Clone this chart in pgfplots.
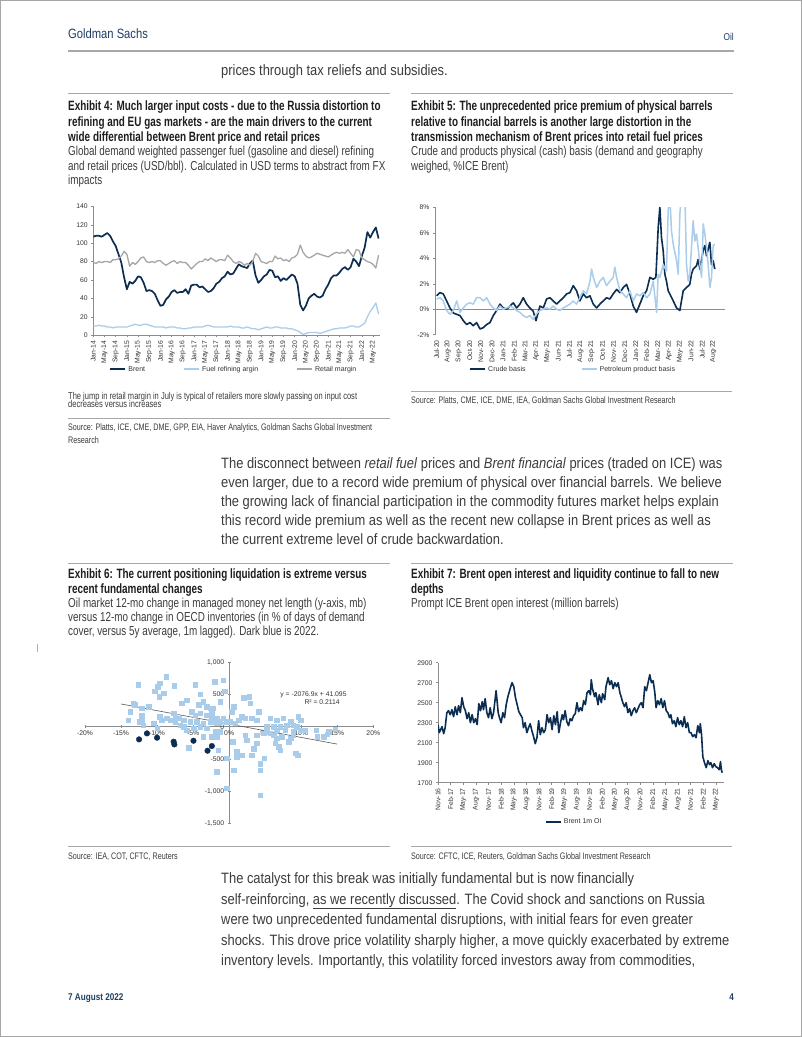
\documentclass[border=0pt]{standalone}
\usepackage{fontspec}
\setmainfont{Liberation Sans}[FakeStretch=0.83]
\newfontfamily\bodyfam{Liberation Sans}[FakeStretch=0.86]
\newfontfamily\titlefam{Liberation Sans}[FakeStretch=0.735]
\newfontfamily\subfam{Liberation Sans}[FakeStretch=0.76]
\newfontfamily\chartfont{Liberation Sans}
\usepackage{pgfplots}
\pgfplotsset{compat=1.18}
\definecolor{navy}{HTML}{0B2D52}
\definecolor{lblue}{HTML}{A9CDEB}
\definecolor{sqblue}{HTML}{A9CCEA}
\definecolor{rgray}{HTML}{A6A6A6}
\definecolor{axgray}{HTML}{8C8C8C}
\definecolor{ticktxt}{HTML}{333333}
\definecolor{bodytxt}{HTML}{3C3C3C}
\definecolor{titletxt}{HTML}{1E1E1E}
\definecolor{hdr}{HTML}{1F3F63}
\definecolor{rulec}{HTML}{A8A8A8}
\newcommand{\bodyf}{\bodyfam\fontsize{15}{17}\selectfont\color{bodytxt}}
\newcommand{\titlef}{\titlefam\bfseries\fontsize{13.5}{15}\selectfont\color{titletxt}}
\newcommand{\subf}{\subfam\fontsize{13}{14}\selectfont\color{bodytxt}}
\newcommand{\srcf}{\subfam\fontsize{9.45}{10}\selectfont\color{bodytxt}}
\newcommand{\notef}{\subfam\fontsize{9.9}{10}\selectfont\color{bodytxt}}
\pgfplotsset{
 gs/.style={
  scale only axis,
  tick style={draw=axgray, line width=0.4pt},
  tick align=outside,
  major tick length=2pt,
  ticklabel style={font=\chartfont\fontsize{6.8}{7}\selectfont, text=ticktxt},
  /pgf/number format/assume math mode=true,
  legend style={draw=none, fill=none, font=\chartfont\fontsize{7}{8}\selectfont, text=ticktxt},
  legend cell align=left,
  legend image code/.code={\draw[##1, line width=2pt] (0pt,0pt) -- (15pt,0pt);},
 },
}
\begin{document}
\begin{tikzpicture}
\useasboundingbox (0,0) rectangle (802pt,1037pt);
\fill[white] (0,0) rectangle (802pt,1037pt);
\draw[gray!70, line width=0.8pt] (0.5pt,0.5pt) rectangle (801.5pt,1036.5pt);

\begin{scope}[x=1pt, y=-1pt, yshift=1037pt]
% header
\node[anchor=mid west, inner sep=0pt] at (68,36) {\fontsize{13.5}{15}\selectfont\color{hdr}Goldman Sachs};
\node[anchor=mid east, inner sep=0pt] at (734,38) {\fontsize{10}{12}\selectfont\color{hdr}Oil};
\draw[rulec, line width=1.2pt] (68,51) -- (734,51);
\node[anchor=mid west, inner sep=0pt] at (221,73) {\bodyf prices through tax reliefs and subsidies.};
\draw[rulec, line width=0.8pt] (68,93.3) -- (390,93.3);
\draw[rulec, line width=0.8pt] (411,93.3) -- (733,93.3);
% exhibit 4 title
\node[anchor=mid west, inner sep=0pt] at (68,108) {\titlef Exhibit 4: Much larger input costs - due to the Russia distortion to};
\node[anchor=mid west, inner sep=0pt] at (68,123.5) {\titlef refining and EU gas markets - are the main drivers to the current};
\node[anchor=mid west, inner sep=0pt] at (68,139) {\titlef wide differential between Brent price and retail prices};
\node[anchor=mid west, inner sep=0pt] at (68,153) {\subf Global demand weighted passenger fuel (gasoline and diesel) refining};
\node[anchor=mid west, inner sep=0pt] at (68,167.5) {\subf and retail prices (USD/bbl). Calculated in USD terms to abstract from FX};
\node[anchor=mid west, inner sep=0pt] at (68,182) {\subf impacts};
% exhibit 5 title
\node[anchor=mid west, inner sep=0pt] at (411,108) {\titlef Exhibit 5: The unprecedented price premium of physical barrels};
\node[anchor=mid west, inner sep=0pt] at (411,123.5) {\titlef relative to financial barrels is another large distortion in the};
\node[anchor=mid west, inner sep=0pt] at (411,139) {\titlef transmission mechanism of Brent prices into retail fuel prices};
\node[anchor=mid west, inner sep=0pt] at (411,153) {\subf Crude and products physical (cash) basis (demand and geography};
\node[anchor=mid west, inner sep=0pt] at (411,167.5) {\subf weighed, \%ICE Brent)};
% exhibit 4 notes
\node[anchor=mid west, inner sep=0pt] at (68,397.3) {\notef The jump in retail margin in July is typical of retailers more slowly passing on input cost};
\node[anchor=mid west, inner sep=0pt] at (68,405.3) {\notef decreases versus increases};
\draw[rulec, line width=0.8pt] (68,418) -- (390,418);
\node[anchor=mid west, inner sep=0pt] at (68,428) {\srcf Source: Platts, ICE, CME, DME, GPP, EIA, Haver Analytics, Goldman Sachs Global Investment};
\node[anchor=mid west, inner sep=0pt] at (68,441) {\srcf Research};
% exhibit 5 source
\draw[rulec, line width=0.8pt] (411,391) -- (732,391);
\node[anchor=mid west, inner sep=0pt] at (411,401) {\srcf Source: Platts, CME, ICE, DME, IEA, Goldman Sachs Global Investment Research};
% middle paragraph
\node[anchor=mid west, inner sep=0pt] at (221,466) {\bodyf The disconnect between \textit{retail fuel} prices and \textit{Brent financial} prices (traded on ICE) was};
\node[anchor=mid west, inner sep=0pt] at (221,485) {\bodyf even larger, due to a record wide premium of physical over financial barrels. We believe};
\node[anchor=mid west, inner sep=0pt] at (221,504) {\bodyf the growing lack of financial participation in the commodity futures market helps explain};
\node[anchor=mid west, inner sep=0pt] at (221,523) {\bodyf this record wide premium as well as the recent new collapse in Brent prices as well as};
\node[anchor=mid west, inner sep=0pt] at (221,542) {\bodyf the current extreme level of crude backwardation.};
\draw[rulec, line width=0.8pt] (68,563) -- (390,563);
\draw[rulec, line width=0.8pt] (411,563) -- (733,563);
% exhibit 6 title
\node[anchor=mid west, inner sep=0pt] at (68,575.5) {\titlef Exhibit 6: The current positioning liquidation is extreme versus};
\node[anchor=mid west, inner sep=0pt] at (68,591) {\titlef recent fundamental changes};
\node[anchor=mid west, inner sep=0pt] at (68,604.5) {\subf Oil market 12-mo change in managed money net length (y-axis, mb)};
\node[anchor=mid west, inner sep=0pt] at (68,618.5) {\subf versus 12-mo change in OECD inventories (in \% of days of demand};
\node[anchor=mid west, inner sep=0pt] at (68,632.5) {\subf cover, versus 5y average, 1m lagged). Dark blue is 2022.};
% exhibit 7 title
\node[anchor=mid west, inner sep=0pt] at (411,575.5) {\titlef Exhibit 7: Brent open interest and liquidity continue to fall to new};
\node[anchor=mid west, inner sep=0pt] at (411,591) {\titlef depths};
\node[anchor=mid west, inner sep=0pt] at (411,604.5) {\subf Prompt ICE Brent open interest (million barrels)};
\draw[gray!60, line width=0.6pt] (37,644) -- (37,652);
% sources 6,7
\draw[rulec, line width=0.8pt] (68,846.5) -- (390,846.5);
\node[anchor=mid west, inner sep=0pt] at (68,857) {\srcf Source: IEA, COT, CFTC, Reuters};
\draw[rulec, line width=0.8pt] (411,846.5) -- (732,846.5);
\node[anchor=mid west, inner sep=0pt] at (411,857) {\srcf Source: CFTC, ICE, Reuters, Goldman Sachs Global Investment Research};
% bottom paragraph
\node[anchor=mid west, inner sep=0pt] at (221,881) {\bodyf The catalyst for this break was initially fundamental but is now financially};
\node[anchor=mid west, inner sep=0pt] at (221,901.5) {\bodyf self-reinforcing, \underline{as we recently discussed}. The Covid shock and sanctions on Russia};
\node[anchor=mid west, inner sep=0pt] at (221,922) {\bodyf were two unprecedented fundamental disruptions, with initial fears for even greater};
\node[anchor=mid west, inner sep=0pt] at (221,942.5) {\bodyf shocks. This drove price volatility sharply higher, a move quickly exacerbated by extreme};
\node[anchor=mid west, inner sep=0pt] at (221,963) {\bodyf inventory levels. Importantly, this volatility forced investors away from commodities,};
% footer
\node[anchor=mid west, inner sep=0pt] at (68,998) {\bfseries\fontsize{9.8}{11}\selectfont\color{hdr}7 August 2022};
\node[anchor=mid east, inner sep=0pt] at (734,998) {\bfseries\fontsize{9.8}{11}\selectfont\color{hdr}4};
\end{scope}

% ---------- Exhibit 4 ----------
\begin{axis}[gs, at={(93.3pt,701.7pt)}, anchor=south west, width=286.7pt, height=129pt,
 xmin=0, xmax=102.5, ymin=0, ymax=140,
 axis x line*=bottom, axis y line*=left,
 axis line style={-, draw=axgray, line width=0.5pt},
 xtick={0,4,...,100},
 xticklabels={Jan-14,May-14,Sep-14,Jan-15,May-15,Sep-15,Jan-16,May-16,Sep-16,Jan-17,May-17,Sep-17,Jan-18,May-18,Sep-18,Jan-19,May-19,Sep-19,Jan-20,May-20,Sep-20,Jan-21,May-21,Sep-21,Jan-22,May-22},
 xticklabel style={rotate=90, anchor=east},
 ytick={0,20,...,140}, yticklabels={0,20,40,60,80,100,120,140},
 legend columns=3,
 legend style={at={(0.045,-0.264)}, anchor=west, /tikz/every even column/.append style={column sep=36pt}},
]
\addplot[navy, line width=1.7pt, line join=round] coordinates {(0,107)(1,108)(2,108)(3,107)(4,109)(5,111)(6,108)(7,102)(8,97)(9,88)(10,79)(11,63)(12,50)(13,58)(14,56)(15,59)(16,64)(17,63)(18,57)(19,48)(20,49)(21,48)(22,45)(23,38)(24,32)(25,33)(26,39)(27,42)(28,47)(29,49)(30,46)(31,47)(32,47)(33,50)(34,45)(35,54)(36,55)(37,55)(38,52)(39,53)(40,50)(41,47)(42,48)(43,51)(44,56)(45,58)(46,62)(47,64)(48,69)(49,66)(50,67)(51,72)(52,77)(53,75)(54,74)(55,73)(56,78)(57,81)(58,65)(59,57)(60,60)(61,64)(62,66)(63,71)(64,70)(65,63)(66,64)(67,59)(68,62)(69,60)(70,63)(71,66)(72,64)(73,56)(74,33)(75,27)(76,32)(77,40)(78,43)(79,45)(80,42)(81,41)(82,43)(83,50)(84,55)(85,62)(86,65)(87,65)(88,68)(89,72)(90,74)(91,71)(92,74)(93,83)(94,80)(95,75)(96,86)(97,95)(98,112)(99,106)(100,112)(101,117)(102,105)};
\addlegendentry{Brent}
\addplot[lblue, line width=1.3pt, line join=round] coordinates {(0,10)(1,10)(2,11)(3,10)(4,10)(5,9)(6,9)(7,8)(8,9)(9,9)(10,9)(11,9)(12,9)(13,10)(14,11)(15,12)(16,11)(17,11)(18,12)(19,12)(20,11)(21,10)(22,9)(23,9)(24,9)(25,9)(26,8)(27,9)(28,9)(29,9)(30,8)(31,8)(32,7)(33,7)(34,8)(35,8)(36,9)(37,9)(38,9)(39,9)(40,10)(41,11)(42,10)(43,9)(44,9)(45,9)(46,9)(47,9)(48,9)(49,10)(50,9)(51,9)(52,9)(53,8)(54,8)(55,9)(56,8)(57,7)(58,7)(59,6)(60,7)(61,8)(62,9)(63,8)(64,8)(65,9)(66,9)(67,8)(68,8)(69,8)(70,7)(71,7)(72,6)(73,5)(74,3)(75,1)(76,2)(77,3)(78,3)(79,3)(80,3)(81,2)(82,3)(83,4)(84,5)(85,6)(86,7)(87,7)(88,8)(89,8)(90,8)(91,9)(92,10)(93,10)(94,9)(95,9)(96,11)(97,13)(98,20)(99,26)(100,30)(101,35)(102,23)};
\addlegendentry{Fuel refining argin}
\addplot[rgray, line width=1.3pt, line join=round] coordinates {(0,79)(1,78)(2,80)(3,79)(4,80)(5,80)(6,79)(7,82)(8,82)(9,83)(10,86)(11,91)(12,88)(13,75)(14,79)(15,77)(16,80)(17,84)(18,85)(19,80)(20,79)(21,80)(22,79)(23,81)(24,81)(25,78)(26,76)(27,78)(28,80)(29,81)(30,78)(31,80)(32,79)(33,79)(34,76)(35,72)(36,75)(37,78)(38,80)(39,80)(40,83)(41,81)(42,84)(43,82)(44,80)(45,82)(46,82)(47,81)(48,87)(49,84)(50,80)(51,78)(52,80)(53,79)(54,76)(55,78)(56,76)(57,80)(58,89)(59,86)(60,80)(61,79)(62,78)(63,80)(64,80)(65,86)(66,83)(67,84)(68,81)(69,82)(70,80)(71,84)(72,85)(73,88)(74,98)(75,90)(76,86)(77,84)(78,85)(79,87)(80,89)(81,88)(82,87)(83,86)(84,85)(85,87)(86,89)(87,90)(88,89)(89,90)(90,89)(91,93)(92,89)(93,85)(94,93)(95,92)(96,84)(97,82)(98,80)(99,79)(100,77)(101,73)(102,87)};
\addlegendentry{Retail margin}
\end{axis}

% ---------- Exhibit 5 ----------
\begin{axis}[gs, at={(435pt,702.3pt)}, anchor=south west, width=290pt, height=127.4pt,
 xmin=-0.15, xmax=26.07, ymin=-2, ymax=8,
 axis x line*=bottom, axis y line*=left,
 axis line style={-, draw=axgray, line width=0.5pt},
 x axis line style={draw=none},
 xtick={0,1,...,25}, xtick style={draw=none},
 xticklabels={Jul-20,Aug-20,Sep-20,Oct-20,Nov-20,Dec-20,Jan-21,Feb-21,Mar-21,Apr-21,May-21,Jun-21,Jul-21,Aug-21,Sep-21,Oct-21,Nov-21,Dec-21,Jan-22,Feb-22,Mar-22,Apr-22,May-22,Jun-22,Jul-22,Aug-22},
 xticklabel style={rotate=90, anchor=east},
 ytick={-2,0,...,8}, yticklabels={-2\%,0\%,2\%,4\%,6\%,8\%},
 extra y ticks={0}, extra y tick labels={},
 extra y tick style={grid=major, major grid style={draw=axgray, line width=0.6pt}},
 legend columns=2,
 legend style={at={(0.107,-0.272)}, anchor=west, /tikz/every even column/.append style={column sep=53pt}},
]
\addplot[navy, line width=1.6pt, line join=round] coordinates {(0,1.05)(0.30,1.3)(0.60,1.2)(0.90,0.65)(1.20,0.1)(1.51,-0.3)(1.81,-0.4)(2.11,-0.5)(2.41,-0.9)(2.71,-1.2)(3.01,-1.05)(3.31,-1.3)(3.61,-1.05)(3.92,-1.55)(4.22,-1.45)(4.52,-1.2)(4.82,-1.05)(5.12,-0.5)(5.42,-0.1)(5.72,0.4)(6.02,0.1)(6.33,0)(6.63,0.25)(6.93,0.5)(7.23,0.1)(7.53,0.4)(7.83,0.9)(8.13,0.4)(8.43,0.1)(8.73,-0.15)(8.98,-0.9)(9.34,0.25)(9.64,0.1)(9.94,0.8)(10.24,0.9)(10.54,0.65)(10.84,0.4)(11.14,0.65)(11.45,0.9)(11.75,1.2)(12.05,1.3)(12.35,1.85)(12.65,1.45)(12.95,0.65)(13.25,1.2)(13.55,0.9)(13.86,1.05)(14.16,0.4)(14.46,0.1)(14.76,0.4)(15.06,0.65)(15.36,0.9)(15.66,0.8)(15.96,1.2)(16.27,1.55)(16.57,1.3)(16.87,1.7)(17.17,1.95)(17.47,1.2)(17.77,0.25)(18.07,-0.25)(18.37,0.4)(18.67,1.05)(18.98,1.45)(19.28,2.5)(19.58,2.35)(19.82,2.5)(20.03,6.4)(20.18,8)(20.33,5.6)(20.48,4.6)(20.63,2.75)(20.78,2.2)(20.93,1.45)(21.08,1.2)(21.39,0.65)(21.69,0.1)(21.99,-0.1)(22.29,1.45)(22.59,1.7)(22.89,1.95)(23.04,2.75)(23.19,3.15)(23.49,3.4)(23.64,3.9)(23.80,3.15)(24.10,4.6)(24.25,5)(24.40,4.2)(24.70,5.25)(24.85,3.5)(25.00,3.8)(25.15,3.15)};
\addlegendentry{Crude basis}
\addplot[lblue, line width=1.5pt, line join=round] coordinates {(0,0.8)(0.30,0.9)(0.60,0.65)(0.90,-0.1)(1.20,-0.4)(1.51,-0.1)(1.81,0.65)(2.11,-0.25)(2.41,0.1)(2.71,0.4)(3.01,0.5)(3.31,0.4)(3.61,0.9)(3.92,0.9)(4.22,0.65)(4.52,0.9)(4.82,0.4)(5.12,0.1)(5.42,-0.1)(5.72,0.25)(6.02,0)(6.33,0.1)(6.63,0.25)(6.93,0.1)(7.23,-0.1)(7.53,-0.25)(7.83,-0.5)(8.13,-0.65)(8.43,-0.5)(8.73,-0.8)(8.98,-0.4)(9.34,-0.1)(9.64,0)(9.94,0.1)(10.24,0)(10.54,0.25)(10.84,0)(11.14,-0.1)(11.45,0.1)(11.75,0.25)(12.05,0.4)(12.35,0.65)(12.65,0.4)(12.95,0.9)(13.25,1.45)(13.55,1.2)(13.86,2.2)(14.01,3.15)(14.16,2.5)(14.46,1.7)(14.76,2.2)(15.06,2.5)(15.36,1.85)(15.66,2.2)(15.96,2.5)(16.11,3.3)(16.27,2.5)(16.57,1.45)(16.87,1.2)(17.17,0.9)(17.47,1.45)(17.77,0.65)(18.07,1.2)(18.37,1.05)(18.67,1.3)(18.98,0.9)(19.28,1.2)(19.58,2.2)(19.88,-0.25)(20.03,2.75)(20.18,2.5)(20.48,3.5)(20.78,3)(20.93,7.7)(21.08,9)(21.23,6.15)(21.39,5.1)(21.69,3.8)(21.84,2.75)(21.99,7.5)(22.14,9)(22.29,9.5)(22.44,9)(22.59,3.5)(22.74,2.2)(22.89,2.75)(23.04,4.85)(23.19,6.95)(23.34,5.35)(23.49,5.9)(23.64,4.85)(23.80,3.5)(23.95,2.5)(24.10,6.7)(24.25,5.9)(24.40,4.85)(24.55,3.5)(24.70,1.7)(24.85,2.5)(25.00,5)(25.15,5.1)};
\addlegendentry{Petroleum product basis}
\end{axis}

% ---------- Exhibit 6 ----------
\begin{axis}[gs, at={(85pt,213.7pt)}, anchor=south west, width=288.3pt, height=161pt,
 xmin=-20, xmax=20, ymin=-1500, ymax=1000,
 axis lines=middle,
 axis line style={-, draw=axgray, line width=0.5pt},
 tick align=center, major tick length=3pt,
 hide obscured x ticks=false, hide obscured y ticks=false,
 xtick={-20,-15,...,20},
 xticklabels={-20\%,-15\%,-10\%,-5\%,0\%,5\%,10\%,15\%,20\%},
 ytick={-1500,-1000,...,1000},
 yticklabels={{-1,500},{-1,000},-500,0,500,{1,000}},
 xticklabel style={anchor=north, yshift=1pt},
 clip=false,
]
\addplot[sqblue, only marks, mark=square*, mark size=2.3pt] coordinates {(-8.75,777)(-12.6,648)(-9.6,673)(-9.95,622)(-10.3,554)(-9.7,466)(-9.1,518)(-7.6,637)(-4.7,648)(-2.0,700)(-0.8,725)(-0.6,554)(-1.25,388)(-4.0,502)(-5.9,414)(-6.6,363)(-3.6,388)(-3.1,311)(-2.6,285)(-2.4,207)(-2.2,285)(-4.25,337)(-5.2,233)(-4.7,181)(-4.0,207)(-3.1,181)(-2.4,130)(-1.7,130)(-0.8,130)(0.6,311)(0.37,233)(2.0,451)(2.8,466)(2.9,363)(4.07,233)(5.7,130)(6.6,104)(7.5,130)(8.5,78)(9.6,155)(9.9,104)(1.76,155)(2.2,130)(3.1,130)(3.8,104)(1.3,104)(0.83,52)(0.14,78)(-0.3,78)(-1.25,78)(-1.7,52)(-2.6,78)(-3.6,52)(-4.5,78)(-5.4,78)(-6.3,104)(-7.0,130)(-7.5,155)(-7.7,207)(-8.2,104)(-7.5,78)(-8.7,130)(-9.6,155)(-9.35,104)(-11.2,311)(-12.1,285)(-13.1,337)(-13.3,363)(-12.1,181)(-12.1,104)(-12.4,78)(-14.0,104)(-13.75,233)(-11.9,26)(-10.5,52)(-10.0,-26)(-6.8,26)(-6.3,0)(-5.9,-52)(-4.95,-26)(-4.0,0)(-3.1,-26)(-1.9,-78)(-1.25,-78)(-1.7,-155)(-2.4,-155)(-3.6,-155)(-5.6,-326)(-1.5,-363)(-1.7,-700)(-0.3,-492)(-0.3,-958)(0.6,-673)(0.46,-233)(1.06,-389)(1.06,-466)(1.76,-440)(2.2,-130)(2.45,-207)(3.1,-440)(3.4,-337)(3.84,-259)(4.3,-570)(4.3,-673)(4.86,-492)(4.3,-1062)(3.84,-130)(4.77,-104)(5.2,-78)(5.7,-104)(6.16,-130)(6.6,-52)(6.4,-259)(6.85,-311)(7.1,-363)(6.6,-181)(7.3,-155)(7.8,-52)(8.24,-233)(8.5,-181)(8.9,-78)(9.4,0)(9.9,-52)(9.2,-414)(9.5,-440)(10.55,-52)(12.1,-52)(12.2,-155)(13.1,-155)(13.6,-119)(13.8,-78)(14.7,-36)(8.0,26)(8.9,26)(7.1,0)(6.16,0)(5.2,0)(8.9,-130)};
\addplot[navy, only marks, mark=*, mark size=2.8pt] coordinates {(-12.5,-197)(-11.4,-104)(-10.0,-171)(-7.7,-233)(-7.6,-275)(-4.95,-218)(-3.0,-373)(-2.4,-300)};
\addplot[draw=black!65, line width=0.6pt] coordinates {(-15,352.6)(15,-270.4)};
\node[font=\chartfont\fontsize{6.8}{7}\selectfont, text=ticktxt] at (axis cs:11.7,492) {y = -2076.9x + 41.095};
\node[font=\chartfont\fontsize{6.8}{7}\selectfont, text=ticktxt] at (axis cs:12.9,378) {R² = 0.2114};
\end{axis}

% ---------- Exhibit 7 ----------
\begin{axis}[gs, at={(438pt,254.3pt)}, anchor=south west, width=286.3pt, height=120pt,
 xmin=0, xmax=68, ymin=1700, ymax=2900,
 axis x line*=bottom, axis y line*=left,
 axis line style={-, draw=axgray, line width=0.5pt},
 xtick={0,3,...,66},
 xticklabels={Nov-16,Feb-17,May-17,Aug-17,Nov-17,Feb-18,May-18,Aug-18,Nov-18,Feb-19,May-19,Aug-19,Nov-19,Feb-20,May-20,Aug-20,Nov-20,Feb-21,May-21,Aug-21,Nov-21,Feb-22,May-22},
 xticklabel style={rotate=90, anchor=east},
 ytick={1700,1900,...,2900}, yticklabels={1700,1900,2100,2300,2500,2700,2900},
 legend style={at={(0.362,-0.325)}, anchor=west},
]
\addplot[navy, line width=1.6pt, line join=round] coordinates {(0,2280)(0.3,2200)(0.95,2260)(1.35,2190)(1.7,2250)(2.1,2400)(2.5,2420)(2.9,2380)(3.3,2430)(3.7,2360)(4.1,2460)(4.5,2380)(4.9,2470)(5.3,2400)(5.7,2550)(6.1,2460)(6.5,2420)(6.9,2340)(7.3,2400)(7.7,2300)(8.1,2380)(8.5,2300)(8.9,2340)(9.3,2280)(9.7,2490)(10.1,2420)(10.5,2510)(10.8,2430)(11.2,2540)(11.6,2400)(12.0,2350)(12.4,2450)(12.8,2340)(13.2,2400)(13.8,2620)(14.3,2400)(14.6,2350)(15.0,2300)(15.4,2400)(15.8,2350)(16.2,2480)(16.6,2560)(17.2,2650)(17.6,2700)(18.0,2660)(18.4,2550)(18.8,2480)(19.2,2410)(19.6,2380)(20.0,2350)(20.3,2250)(20.7,2300)(21.1,2200)(21.5,2250)(21.9,2290)(22.3,2220)(22.7,2160)(23.1,2090)(23.5,2150)(23.9,2320)(24.3,2180)(24.7,2250)(25.1,2200)(25.5,2230)(25.9,2380)(26.3,2300)(26.7,2350)(27.1,2230)(27.5,2370)(27.9,2280)(28.3,2410)(28.7,2200)(29.1,2300)(29.5,2380)(29.8,2330)(30.2,2420)(30.6,2310)(31.0,2270)(31.4,2340)(31.8,2320)(32.2,2370)(32.6,2390)(33.0,2500)(33.4,2410)(33.8,2450)(34.2,2420)(34.6,2520)(35.0,2480)(35.4,2600)(35.8,2620)(36.2,2580)(36.4,2730)(36.7,2640)(37.2,2560)(37.5,2600)(38.0,2480)(38.3,2580)(38.8,2500)(39.1,2590)(39.6,2530)(39.9,2660)(40.4,2750)(40.8,2680)(41.2,2720)(41.6,2640)(42.0,2700)(42.4,2660)(42.8,2700)(43.2,2600)(43.5,2560)(43.9,2500)(44.3,2460)(44.7,2500)(45.1,2400)(45.5,2440)(45.9,2370)(46.3,2420)(46.7,2450)(47.1,2400)(47.5,2440)(47.9,2480)(48.3,2500)(48.7,2450)(49.1,2660)(49.5,2620)(49.9,2700)(50.3,2780)(50.7,2700)(51.1,2720)(51.5,2600)(51.8,2450)(52.2,2520)(52.6,2480)(53.0,2540)(53.4,2450)(53.8,2520)(54.2,2420)(54.6,2400)(55.0,2350)(55.3,2380)(55.7,2290)(56.1,2320)(56.5,2260)(56.9,2350)(57.3,2280)(57.7,2320)(58.1,2260)(58.5,2360)(58.9,2250)(59.3,2300)(59.7,2200)(60.1,2200)(60.5,2160)(60.9,2180)(61.3,2150)(61.7,2270)(62.1,2200)(62.3,2290)(62.6,2180)(62.9,1960)(63.3,1900)(63.7,1850)(64.1,1920)(64.5,1880)(64.8,1900)(65.2,1850)(65.6,1890)(66.0,1860)(66.4,1850)(66.8,1830)(67.1,1910)(67.3,1830)(67.5,1800)};
\addlegendentry{Brent 1m OI}
\end{axis}
\end{tikzpicture}
\end{document}
